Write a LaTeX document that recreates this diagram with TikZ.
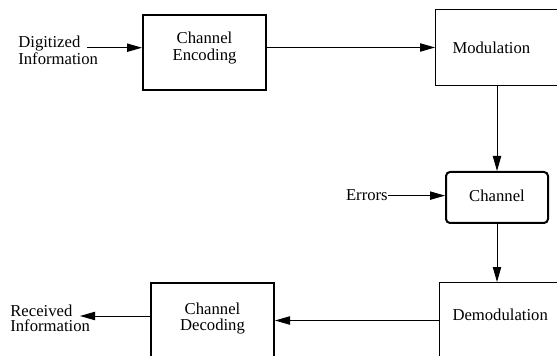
\documentclass[tikz,border=0pt]{standalone}
\usepackage{fontspec}
\setmainfont{Liberation Serif}
\usetikzlibrary{arrows.meta}

\newcommand{\twolines}[3][c]{\begin{tabular}[t]{@{}#1@{}}#2\\#3\end{tabular}}

\begin{document}
\begin{tikzpicture}[x=0.6pt, y=-0.6pt,
    >={Triangle[length=9pt,width=5pt]},
    box/.style={draw, line width=0.6pt, inner sep=0pt, anchor=north west,
                font=\fontsize{10}{9.6}\selectfont},
    thick box/.style={box, line width=1.2pt},
    label text/.style={inner sep=0pt, anchor=base west,
                       font=\fontsize{10}{9.9}\selectfont},
    flow/.style={->, line width=0.6pt}]

\useasboundingbox (0,0) rectangle (557,356);

\node[thick box, minimum width=73.8pt, text height=17.4pt, text depth=27.6pt,
      font=\fontsize{10}{10.2}\selectfont]
    (enc) at (142,14) {\twolines{Channel}{Encoding}};
\node[box, text height=26.4pt, text depth=19.2pt]
    (mod) at (435,9) {\makebox[78pt][l]{\hspace{10.2pt}Modulation}};
\node[thick box, rounded corners=2.4pt, minimum width=61.2pt,
      text height=18pt, text depth=12.6pt]
    (chan) at (445,171) {Channel};
\node[box, text height=22.8pt, text depth=30pt]
    (demod) at (439,282) {\makebox[78pt][l]{\hspace{7.8pt}Demodulation}};
\node[thick box, minimum width=73.8pt, text height=18.6pt, text depth=34.2pt]
    (dec) at (150,282) {\twolines{Channel}{Decoding}};

\node[label text] (digin) at (18,47.7) {\twolines[l]{Digitized}{Information}};
\node[label text, font=\fontsize{10}{7}\selectfont]
    (recv) at (10,316.7) {\twolines[l]{Received}{Information}};
\node[label text, anchor=base east] (err) at (388,201) {Errors};

\coordinate (digout) at (87,47.7);
\coordinate (recvin) at (80,316);

\draw[flow] (digout) -- (digout -| enc.west);
\draw[flow] (mod.west -| enc.east) -- (mod.west);
\draw[flow] (chan.north |- mod.south) -- (chan.north);
\draw[flow] (err.east) -- (err.east -| chan.west);
\draw[flow] (chan.south) -- (chan.south |- demod.north);
\draw[flow] (demod.base west) -- (demod.base west -| dec.east);
\draw[flow] (dec.west |- recvin) -- (recvin);

\end{tikzpicture}
\end{document}
